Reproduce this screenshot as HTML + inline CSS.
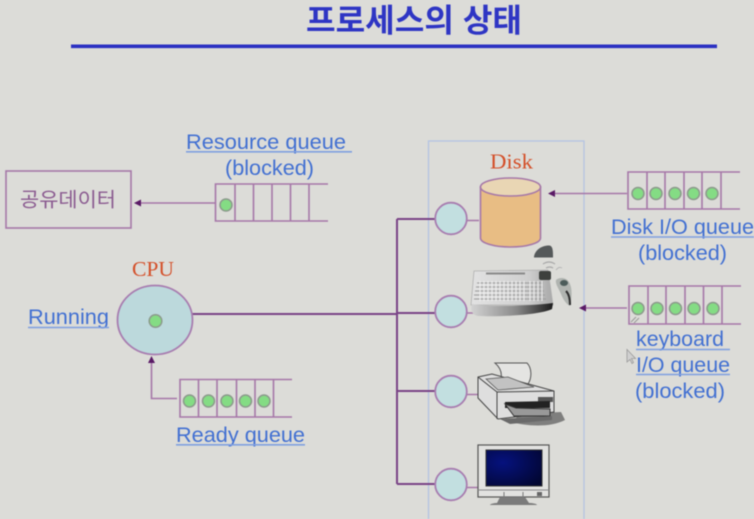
<!DOCTYPE html>
<html lang="ko">
<head>
<meta charset="utf-8">
<style>
html,body{margin:0;padding:0;width:754px;height:519px;overflow:hidden;background:#dcdcd8}
svg{display:block;filter:blur(.6px)}
.lb{font-family:"Liberation Sans",sans-serif;font-size:21px;fill:#4270d2}
.ul{stroke:#7f9fe0;stroke-width:1.6}
.sf{font-family:"Liberation Serif",serif;fill:#d4502a;font-size:21.5px}
.q{stroke:#a677a8;stroke-width:1.6;fill:none}
.d{fill:#84dc84;stroke:#8c9a8c;stroke-width:1.5}
.c{fill:#c2dfe0;stroke:#a87db0;stroke-width:1.8}
.w{stroke:#7a4386;stroke-width:2;fill:none}
.t{stroke:#a677a8;stroke-width:1.6;fill:none}
.a{fill:#5a1a66}
</style>
</head>
<body>
<svg width="754" height="519" viewBox="0 0 754 519" xmlns="http://www.w3.org/2000/svg">
<defs>
<radialGradient id="scr" cx="30%" cy="35%" r="85%"><stop offset="0" stop-color="#06127e"/><stop offset="1" stop-color="#020630"/></radialGradient>
<linearGradient id="kb" x1="0" x2="1"><stop offset="0" stop-color="#e2e2e2"/><stop offset=".7" stop-color="#cfcfcf"/><stop offset="1" stop-color="#a8a8a8"/></linearGradient>
<linearGradient id="rest" x1="0" x2="1"><stop offset="0" stop-color="#d2d2d2"/><stop offset=".55" stop-color="#8a8a8a"/><stop offset="1" stop-color="#1c1c1c"/></linearGradient>
</defs>
<rect width="754" height="519" fill="#dcdcd8"/>

<!-- title -->
<text x="306" y="31.500" textLength="216" lengthAdjust="spacingAndGlyphs" font-family="'Liberation Sans','Noto Sans CJK KR',sans-serif" font-size="32" font-weight="700" fill="#2e35c4">프로세스의 상태</text>
<rect x="71" y="44.500" width="646" height="3.600" fill="#2a30c2"/>

<!-- device box -->
<rect x="428.500" y="141" width="155.500" height="390" fill="none" stroke="#b4c4e2" stroke-width="1.300"/>

<!-- shared data -->
<rect x="6" y="171" width="125" height="57" fill="none" stroke="#a677a8" stroke-width="1.600"/>
<text x="20" y="206.500" textLength="96" lengthAdjust="spacingAndGlyphs" font-family="'Liberation Sans','Noto Sans CJK KR',sans-serif" font-size="20" fill="#8a5a90">공유데이터</text>

<!-- resource queue -->
<path class="t" d="M215 203H140"/><path class="a" d="M134 203l7-3.500v7z"/>
<path class="q" d="M328 184H215.500V221H328M235 184V221M253.500 184V221M272 184V221M290.500 184V221M309 184V221"/>
<circle class="d" cx="226" cy="205" r="6"/>
<text class="lb" x="186" y="149" textLength="160" lengthAdjust="spacingAndGlyphs">Resource queue</text>
<line class="ul" x1="186" x2="352" y1="151.800" y2="151.800"/>
<text class="lb" x="225" y="175" textLength="89" lengthAdjust="spacingAndGlyphs">(blocked)</text>

<!-- CPU -->
<text class="sf" x="132" y="276" textLength="42" lengthAdjust="spacingAndGlyphs">CPU</text>
<path class="w" d="M192 314H397M397 219V484M397 219H437M397 313H437M397 391H437M397 484H437"/>
<ellipse class="c" cx="155" cy="320" rx="37.500" ry="34.500" style="fill:#bcd9dc"/>
<circle class="d" cx="155.500" cy="321" r="6.300"/>
<text class="lb" x="28" y="324" textLength="81" lengthAdjust="spacingAndGlyphs">Running</text>
<line class="ul" x1="28" x2="109" y1="327.500" y2="327.500"/>

<!-- ready queue -->
<path class="t" d="M177 398.500H151.500V362"/><path class="a" d="M151.500 356l3.500 7h-7z"/>
<path class="q" d="M292 379.500H180V417H292M198.500 379.500V417M217 379.500V417M236.500 379.500V417M255 379.500V417M273.500 379.500V417"/>
<circle class="d" cx="189.500" cy="401" r="6"/><circle class="d" cx="208.500" cy="401" r="6"/><circle class="d" cx="227" cy="401" r="6"/><circle class="d" cx="245.500" cy="401" r="6"/><circle class="d" cx="264" cy="401" r="6"/>
<text class="lb" x="176" y="442" textLength="129" lengthAdjust="spacingAndGlyphs">Ready queue</text>
<line class="ul" x1="176" x2="305" y1="444.800" y2="444.800"/>

<!-- device circles -->
<path class="t" d="M466 220.500H479M466 313H480M466 394.500H479M466 487.500H479"/>
<circle class="c" cx="451" cy="218.500" r="15.800"/>
<circle class="c" cx="451" cy="311.500" r="15.800"/>
<circle class="c" cx="451" cy="391.500" r="15.800"/>
<circle class="c" cx="451" cy="484.500" r="15.800"/>

<!-- disk -->
<text class="sf" x="490" y="168.500" textLength="43" lengthAdjust="spacingAndGlyphs">Disk</text>
<path d="M480.500 187V238C480.500 243 494 247 510.500 247S540.500 243 540.500 238V187Z" fill="#e8bd84" stroke="#a678a8" stroke-width="1.600"/>
<ellipse cx="510.500" cy="187" rx="30" ry="9" fill="#e9d6b4" stroke="#a678a8" stroke-width="1.600"/>
<path class="t" d="M627 193.500H554"/><path class="a" d="M548 193.500l7-3.500v7z"/>

<!-- disk queue -->
<path class="q" d="M740 172H628V209H740M647 172V209M665 172V209M684 172V209M702 172V209M721 172V209"/>
<circle class="d" cx="638" cy="193.500" r="6"/><circle class="d" cx="656" cy="193.500" r="6"/><circle class="d" cx="675" cy="193.500" r="6"/><circle class="d" cx="693.500" cy="193.500" r="6"/><circle class="d" cx="712" cy="193.500" r="6"/>
<text class="lb" x="611" y="234" textLength="143" lengthAdjust="spacingAndGlyphs">Disk I/O queue</text>
<line class="ul" x1="611" x2="754" y1="237" y2="237"/>
<text class="lb" x="638" y="260" textLength="89" lengthAdjust="spacingAndGlyphs">(blocked)</text>

<!-- keyboard image -->
<path d="M534 256.500c1-6 7-11 15-11 3 0 4 3 4 10l0 2h-19z" fill="#55595a"/>
<path d="M543 264q6-4 12 0M546 268q4-2 7 0" stroke="#a8a8a8" stroke-width="1.200" fill="none"/>
<path d="M556 270q3-4 6-2" stroke="#b5b5b5" stroke-width="1" fill="none"/>
<path d="M474 271L548 270L553 305L471 305Z" fill="url(#kb)" stroke="#b0b0b0" stroke-width=".8"/>
<g fill="none">
<path d="M477 283H543M476 287H543M475 291H544M474 295H545M474 299H546" stroke="#9c9c9c" stroke-width="1"/>
<path d="M480 281V301M484 281V301M488 281V301M492 281V301M496 281V301M500 281V301M504 281V301M508 281V301M512 281V301M516 281V301M520 281V301M524 281V301M530 281V301M534 281V301M538 281V301M542 281V301" stroke="#f2f2f2" stroke-width="1"/>
<path d="M486 273.500H525" stroke="#8a8a8a" stroke-width="2"/>
</g>
<rect x="539" y="271" width="12" height="9" rx="2" fill="#3d403d"/>
<path d="M472 304C490 307 530 306 553 303L552 309C540 315 500 317 478 316C472 315 470 310 472 304Z" fill="url(#rest)"/>
<path d="M556 280c3-3 10-3 13 2c3 5 3 12 2 20l-1 4c-4-2-7-7-9-12c-2-5-6-10-5-14z" fill="#b0b4b0"/>
<ellipse cx="564" cy="283" rx="4" ry="3" fill="#4c5c5a"/>
<path d="M566 291c3 3 4 9 4 14" stroke="#2f2f2f" stroke-width="2" fill="none"/>
<path class="t" d="M627 308H586"/><path class="a" d="M579 308l7-3.500v7z"/>

<!-- keyboard queue -->
<path class="q" d="M741 286H629V324H741M648 286V324M666 286V324M685 286V324M703.500 286V324M722 286V324"/>
<circle class="d" cx="638" cy="308.500" r="6"/><circle class="d" cx="657" cy="308.500" r="6"/><circle class="d" cx="675.500" cy="308.500" r="6"/><circle class="d" cx="694" cy="308.500" r="6"/><circle class="d" cx="713" cy="308.500" r="6"/>
<path d="M631 322l5-5M634 323l5-5" stroke="#999" stroke-width="1"/>
<text class="lb" x="636" y="346" textLength="88" lengthAdjust="spacingAndGlyphs">keyboard</text>
<line class="ul" x1="636" x2="730" y1="349.500" y2="349.500"/>
<text class="lb" x="636" y="372" textLength="94" lengthAdjust="spacingAndGlyphs">I/O queue</text>
<line class="ul" x1="636" x2="730" y1="374.500" y2="374.500"/>
<text class="lb" x="635" y="398" textLength="90" lengthAdjust="spacingAndGlyphs">(blocked)</text>
<path d="M627 349.500V362l3-2.500 2 4 1.500-1-2-4h4Z" fill="#d0d0d0" stroke="#9a9a9a" stroke-width=".8"/>

<!-- printer -->
<path d="M495 363H527C532 368 532 378 528 384H499C503 376 502 369 495 363Z" fill="#e4e4e2" stroke="#555" stroke-width="1"/>
<path d="M512 422C525 426 550 428 565 420L561 412L520 414Z" fill="#6e6e6e" opacity=".85"/>
<path d="M478 377L492 374L554 391V412L498 419L478 398Z" fill="#dedede" stroke="#444" stroke-width="1"/>
<path d="M478 377L497 392L554 391" fill="none" stroke="#444" stroke-width="1"/>
<path d="M497 392V419" stroke="#444" stroke-width="1"/>
<path d="M486 379L508 377L534 387L498 390Z" fill="#c2c2c2" stroke="#555" stroke-width=".8"/>
<rect x="538" y="397" width="15" height="5" fill="#555"/>
<path d="M505 402L550 401V408L505 408Z" fill="#222"/>
<path d="M505 404L514 416H550V409L516 408Z" fill="#999" stroke="#333" stroke-width="1"/>
<path d="M500 419L552 416V420L510 424Z" fill="#6a6a6a"/>

<!-- monitor -->
<rect x="478" y="445" width="71" height="52" fill="#e2e2e0" stroke="#555" stroke-width="1.200"/>
<rect x="486" y="450" width="56" height="36" fill="url(#scr)" stroke="#333" stroke-width="1"/>
<path d="M478 490H549" stroke="#888" stroke-width="1"/>
<rect x="537" y="492" width="5" height="4" fill="#666"/>
<path d="M504 497V492M523 497V492" stroke="#777" stroke-width="1"/>
<path d="M500 497H525L529 503C533 503 537 504 537 505H490C490 504 494 503 497 503Z" fill="#7b7b7b"/>
</svg>
</body>
</html>
